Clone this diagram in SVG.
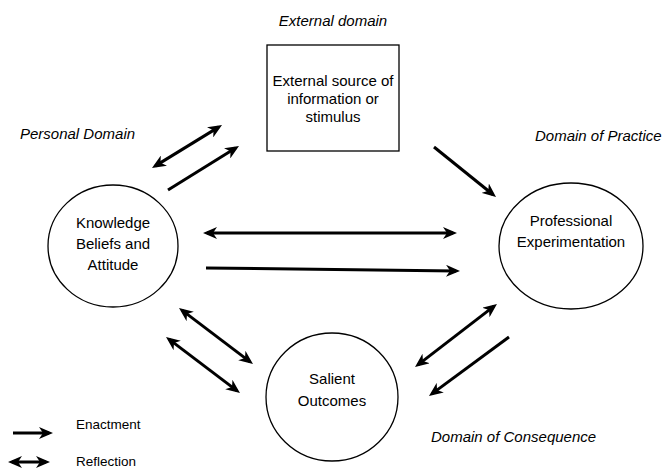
<svg xmlns="http://www.w3.org/2000/svg" width="665" height="469" viewBox="0 0 665 469">
<style>
  .node { fill: #fff; stroke: #000; stroke-width: 1.3; }
  .t { font-family: "Liberation Sans", Arial, sans-serif; font-size: 15px; fill: #000; text-anchor: middle; }
  .dom { font-family: "Liberation Sans", Arial, sans-serif; font-size: 15px; font-style: italic; fill: #000; }
  .leg { font-family: "Liberation Sans", Arial, sans-serif; font-size: 13.5px; fill: #000; }
  .a { stroke: #000; stroke-width: 3; fill: none; marker-end: url(#head); }
  .d { marker-start: url(#head); }
</style>
<defs>
  <marker id="head" viewBox="0 0 14 12" refX="10" refY="6" markerWidth="14" markerHeight="12" markerUnits="userSpaceOnUse" orient="auto-start-reverse">
    <path d="M0,0 L14,6 L0,12 L4,6 z" fill="#000"/>
  </marker>
</defs>

<text class="dom" x="333" y="26" text-anchor="middle">External domain</text>
<text class="dom" x="20" y="139">Personal Domain</text>
<text class="dom" x="535" y="141">Domain of Practice</text>
<text class="dom" x="431" y="442">Domain of Consequence</text>

<g id="external">
  <rect class="node" x="267" y="45" width="132" height="106"/>
  <text class="t" x="333" y="86">External source of</text>
  <text class="t" x="333" y="104">information or</text>
  <text class="t" x="333" y="122">stimulus</text>
</g>
<g id="knowledge">
  <ellipse class="node" cx="113" cy="246" rx="65" ry="61"/>
  <text class="t" x="113" y="228">Knowledge</text>
  <text class="t" x="113" y="249">Beliefs and</text>
  <text class="t" x="113" y="270">Attitude</text>
</g>
<g id="professional">
  <ellipse class="node" cx="571" cy="246" rx="72" ry="63"/>
  <text class="t" x="571" y="226">Professional</text>
  <text class="t" x="571" y="247">Experimentation</text>
</g>
<g id="salient">
  <ellipse class="node" cx="332" cy="397" rx="66" ry="64"/>
  <text class="t" x="332" y="384">Salient</text>
  <text class="t" x="332" y="406">Outcomes</text>
</g>

<g id="connectors">
  <line class="a d" x1="155.4" y1="165.9" x2="218.6" y2="127.1"/>
  <line class="a" x1="168" y1="190" x2="235.6" y2="148.1"/>
  <line class="a d" x1="207" y1="233" x2="453" y2="233"/>
  <line class="a" x1="206" y1="268" x2="456" y2="270.9"/>
  <line class="a" x1="434" y1="147" x2="492.9" y2="194.5"/>
  <line class="a d" x1="182.2" y1="310.4" x2="249.8" y2="361.6"/>
  <line class="a d" x1="169.2" y1="339.4" x2="236.8" y2="390.6"/>
  <line class="a d" x1="493.8" y1="306.4" x2="418.2" y2="364.6"/>
  <line class="a" x1="509" y1="337" x2="432.2" y2="393.6"/>
  <line class="a" x1="13" y1="433" x2="49" y2="433"/>
  <line class="a d" x1="12" y1="462" x2="46" y2="462"/>
</g>

<text class="leg" x="76" y="429">Enactment</text>
<text class="leg" x="76" y="466">Reflection</text>
</svg>
